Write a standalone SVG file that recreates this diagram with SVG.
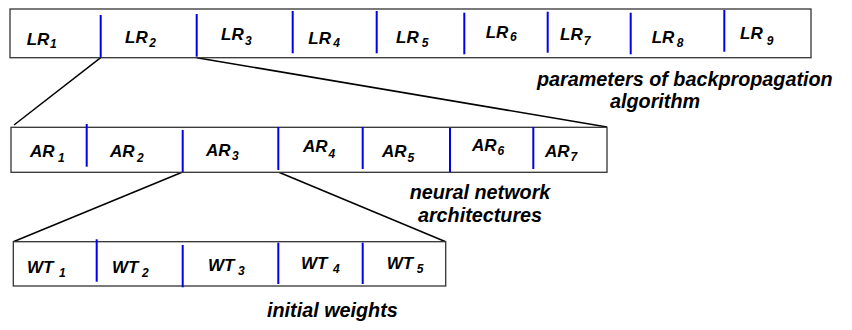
<svg xmlns="http://www.w3.org/2000/svg" width="852" height="330" viewBox="0 0 852 330">
<style>
.box{fill:#fff;stroke:#333;stroke-width:1.3}
.div{stroke:#0000ee;stroke-width:2}
.con{stroke:#000;stroke-width:1.5;fill:none}
text{font-family:"Liberation Sans",Arial,sans-serif;font-weight:bold;font-style:italic;fill:#000}
.lb{font-size:17px}
.sb{font-size:12px}
.an{font-size:19.8px}
</style>
<rect width="852" height="330" fill="#fff"/>
<g id="connectors">
<line class="con" x1="100.7" y1="57.7" x2="14" y2="125"/>
<line class="con" x1="196.7" y1="57.7" x2="607" y2="127"/>
<line class="con" x1="182.7" y1="172" x2="13.3" y2="241.7"/>
<line class="con" x1="278.3" y1="172" x2="445.7" y2="241.7"/>
</g>
<g id="lr-box">
<rect class="box" x="10" y="9" width="801" height="48.7"/>
<line class="div" x1="100.7" y1="15" x2="100.7" y2="57.7"/>
<line class="div" x1="196.7" y1="14" x2="196.7" y2="56.7"/>
<line class="div" x1="292.7" y1="11" x2="292.7" y2="53.3"/>
<line class="div" x1="376.7" y1="11" x2="376.7" y2="53.3"/>
<line class="div" x1="464.3" y1="12.7" x2="464.3" y2="54.3"/>
<line class="div" x1="547.7" y1="11.7" x2="547.7" y2="52.7"/>
<line class="div" x1="630.7" y1="12.7" x2="630.7" y2="54.3"/>
<line class="div" x1="724.3" y1="10" x2="724.3" y2="51.7"/>
<text class="lb" x="26.7" y="45">LR<tspan class="sb" dx="0.6" dy="3.3">1</tspan></text>
<text class="lb" x="125" y="43.3">LR<tspan class="sb" dx="1.6" dy="3.4">2</tspan></text>
<text class="lb" x="221" y="40">LR<tspan class="sb" dx="1.3" dy="5">3</tspan></text>
<text class="lb" x="308.3" y="44.3">LR<tspan class="sb" dx="2.3" dy="2.7">4</tspan></text>
<text class="lb" x="396" y="43.3">LR<tspan class="sb" dx="3" dy="3.4">5</tspan></text>
<text class="lb" x="485.7" y="37.7">LR<tspan class="sb" dx="1.6" dy="2.8">6</tspan></text>
<text class="lb" x="560" y="40">LR<tspan class="sb" dx="1" dy="5">7</tspan></text>
<text class="lb" x="651.7" y="43.3">LR<tspan class="sb" dx="2.3" dy="3.7">8</tspan></text>
<text class="lb" x="740" y="39.3">LR<tspan class="sb" dx="4" dy="5.7">9</tspan></text>
<text class="an" x="537" y="86">parameters of backpropagation</text>
<text class="an" x="610" y="107.5">algorithm</text>
</g>
<g id="ar-box">
<rect class="box" x="11" y="127.3" width="596" height="45"/>
<line class="div" x1="86.7" y1="124" x2="86.7" y2="166.7"/>
<line class="div" x1="182.7" y1="130" x2="182.7" y2="172"/>
<line class="div" x1="278.3" y1="127" x2="278.3" y2="170"/>
<line class="div" x1="362.7" y1="127" x2="362.7" y2="169"/>
<line class="div" x1="450" y1="128" x2="450" y2="172"/>
<line class="div" x1="533.3" y1="127" x2="533.3" y2="169"/>
<text class="lb" x="30" y="157.3">AR<tspan class="sb" dx="3.5" dy="4.4">1</tspan></text>
<text class="lb" x="110" y="157">AR<tspan class="sb" dx="2.5" dy="5">2</tspan></text>
<text class="lb" x="206" y="156">AR<tspan class="sb" dx="1.5" dy="4">3</tspan></text>
<text class="lb" x="303" y="151.7">AR<tspan class="sb" dx="1" dy="6">4</tspan></text>
<text class="lb" x="382" y="157">AR<tspan class="sb" dx="1" dy="5">5</tspan></text>
<text class="lb" x="472" y="151">AR<tspan class="sb" dx="1" dy="4">6</tspan></text>
<text class="lb" x="545" y="157">AR<tspan class="sb" dx="1" dy="4">7</tspan></text>
<text class="an" x="480" y="198.5" text-anchor="middle">neural network</text>
<text class="an" x="480" y="221.7" text-anchor="middle">architectures</text>
</g>
<g id="wt-box">
<rect class="box" x="13.3" y="241.7" width="432.4" height="44.3"/>
<line class="div" x1="96.7" y1="239.3" x2="96.7" y2="281.7"/>
<line class="div" x1="182.7" y1="245" x2="182.7" y2="287.3"/>
<line class="div" x1="278.3" y1="242.7" x2="278.3" y2="284"/>
<line class="div" x1="362.7" y1="242.7" x2="362.7" y2="284"/>
<text class="lb" x="27" y="273.3">WT<tspan class="sb" dx="5.6" dy="3.4">1</tspan></text>
<text class="lb" x="112" y="273.3">WT<tspan class="sb" dx="3.6" dy="3.7">2</tspan></text>
<text class="lb" x="208" y="270.7">WT<tspan class="sb" dx="3.6" dy="4.3">3</tspan></text>
<text class="lb" x="301" y="269.3">WT<tspan class="sb" dx="5.6" dy="3.7">4</tspan></text>
<text class="lb" x="386.7" y="269.3">WT<tspan class="sb" dx="3.6" dy="3.7">5</tspan></text>
<text class="an" x="267" y="317.3">initial weights</text>
</g>
</svg>
